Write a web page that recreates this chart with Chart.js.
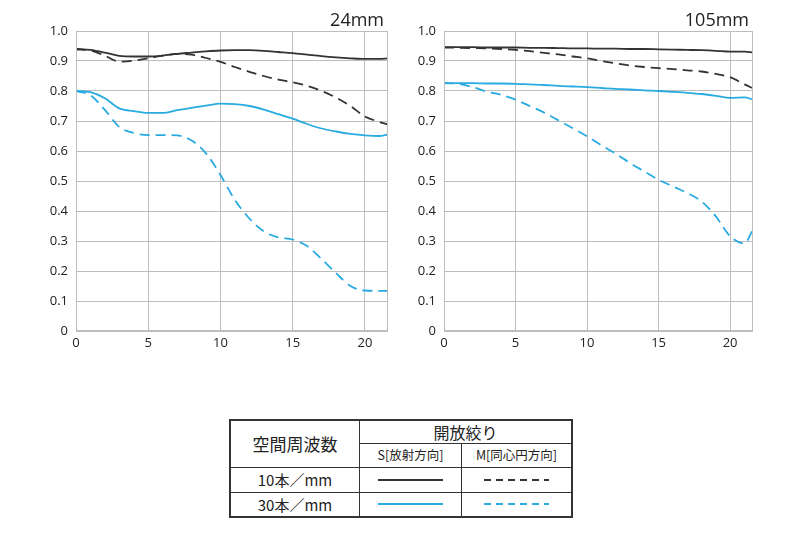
<!DOCTYPE html>
<html>
<head>
<meta charset="utf-8">
<script src="https://cdn.jsdelivr.net/npm/chart.js@4/dist/chart.umd.min.js"></script>
<style>
  body { margin: 0; background: #fff; font-family: "Noto Sans CJK JP", "Open Sans", sans-serif; }
  #wrap { position: relative; width: 800px; height: 534px; }
  .box { position: absolute; top: 0; height: 360px; }
  table { position: absolute; left: 229px; top: 419px; border-collapse: collapse; color: #222; border: 2px solid #333; }
  td { border: 1.5px solid #333; text-align: center; padding: 0; line-height: 1; }
  svg { display: block; margin: 0 auto; }
</style>
</head>
<body>
<div id="wrap">
  <div class="box" style="left:0;width:400px"><canvas id="c24"></canvas></div>
  <div class="box" style="left:400px;width:400px"><canvas id="c105"></canvas></div>
  <table>
    <tr style="height:23px">
      <td rowspan="2" style="width:128px;font-size:17px">空間周波数</td>
      <td colspan="2" style="font-size:16px">開放絞り</td>
    </tr>
    <tr style="height:24px">
      <td style="width:101px;font-size:12.5px">S[放射方向]</td>
      <td style="width:109px;font-size:12.5px">M[同心円方向]</td>
    </tr>
    <tr style="height:25px">
      <td style="font-size:15px">10本／mm</td>
      <td><svg width="65" height="4"><line x1="0" y1="2" x2="65" y2="2" stroke="#333" stroke-width="1.8"/></svg></td>
      <td><svg width="65" height="4"><line x1="0" y1="2" x2="65" y2="2" stroke="#333" stroke-width="1.8" stroke-dasharray="7 5"/></svg></td>
    </tr>
    <tr style="height:25px">
      <td style="font-size:15px">30本／mm</td>
      <td><svg width="65" height="4"><line x1="0" y1="2" x2="65" y2="2" stroke="#29abe2" stroke-width="1.8"/></svg></td>
      <td><svg width="65" height="4"><line x1="0" y1="2" x2="65" y2="2" stroke="#29abe2" stroke-width="1.8" stroke-dasharray="7 5"/></svg></td>
    </tr>
  </table>
</div>
<script>
// --- DONNEES ---
const xs = [0, 1, 2, 3, 4, 5, 6, 7, 8, 9, 10, 11, 12, 13, 14, 15, 16, 17, 18, 19, 20, 21, 21.6];

const s10_24 = [.941, .937, .928, .917, .915, .915, .918, .924, .928, .932, .935, .936, .936, .934, .930, .926, .921, .916, .912, .909, .907, .907, .909];
const m10_24 = [.939, .935, .918, .898, .901, .909, .918, .924, .921, .910, .897, .880, .864, .850, .838, .829, .817, .800, .778, .750, .715, .697, .688];
const s30_24 = [.801, .796, .776, .742, .733, .727, .727, .736, .744, .751, .758, .756, .750, .738, .723, .708, .690, .675, .665, .657, .652, .650, .655];
const m30_24 = [.800, .786, .737, .680, .660, .653, .653, .652, .635, .592, .520, .437, .375, .332, .312, .305, .283, .240, .193, .150, .135, .134, .134];

const s10_105 = [.946, .946, .946, .945, .945, .945, .944, .944, .943, .942, .942, .941, .941, .940, .940, .939, .938, .937, .936, .934, .931, .931, .929];
const m10_105 = [.945, .944, .943, .942, .940, .937, .933, .927, .922, .915, .909, .900, .892, .885, .880, .876, .873, .869, .865, .857, .846, .822, .809];
const s30_105 = [.826, .826, .826, .825, .825, .824, .822, .820, .817, .815, .813, .810, .807, .805, .802, .800, .797, .794, .790, .784, .777, .779, .771];
const m30_105 = [.826, .824, .813, .798, .787, .771, .750, .728, .702, .676, .649, .619, .591, .560, .532, .504, .482, .460, .432, .382, .316, .292, .338];

const xTicks = [0, 5, 10, 15, 20];
const BLACK = '#333333', BLUE = '#29abe2', GRID = '#bdbdbd';

function pts(arr) { return xs.map((x, i) => ({ x: x, y: arr[i] })); }

function serie(arr, color, dashed) {
    return { data: pts(arr), borderColor: color, borderWidth: 1.8, borderDash: dashed ? [10, 6] : [],
             pointRadius: 0, fill: false, cubicInterpolationMode: 'monotone' };
}

// --- GRAPHIQUE ---
function makeChart(id, titre, yWidth, padRight, s10, m10, s30, m30) {
    const frame = {
        id: 'frame',
        afterDraw(chart) {
            const a = chart.chartArea, ctx = chart.ctx;
            ctx.save();
            ctx.strokeStyle = GRID; ctx.lineWidth = 1;
            ctx.strokeRect(a.left + 0.5, a.top + 0.5, a.right - a.left - 1, a.bottom - a.top - 1);
            ctx.fillStyle = '#222'; ctx.font = '18px "Open Sans", sans-serif';
            ctx.textAlign = 'right'; ctx.textBaseline = 'alphabetic';
            ctx.fillText(titre, a.right - 4, 26);
            ctx.restore();
        }
    };
    return new Chart(document.getElementById(id), {
        type: 'line',
        data: { datasets: [serie(s10, BLACK, false), serie(m10, BLACK, true), serie(s30, BLUE, false), serie(m30, BLUE, true)] },
        options: {
            responsive: false, animation: false,
            layout: { padding: { top: 31, right: padRight, left: 0, bottom: 0 } },
            plugins: { legend: { display: false }, tooltip: { enabled: false } },
            scales: {
                x: {
                    type: 'linear', min: 0, max: 21.6,
                    afterBuildTicks: s => { s.ticks = xTicks.map(v => ({ value: v })); },
                    afterFit: s => { s.height = 29; },
                    grid: { color: GRID, drawTicks: false },
                    border: { display: false },
                    ticks: { padding: 4, color: '#222', font: { family: 'Open Sans', size: 13 } }
                },
                y: {
                    min: 0, max: 1,
                    afterFit: s => { s.width = yWidth; },
                    grid: { color: GRID, drawTicks: false },
                    border: { display: false },
                    ticks: { stepSize: 0.1, padding: 8, color: '#222', font: { family: 'Open Sans', size: 13 },
                             callback: v => v === 0 ? '0' : v.toFixed(1) }
                }
            }
        },
        plugins: [frame]
    });
}

document.getElementById('c24').width = 400; document.getElementById('c24').height = 360;
document.getElementById('c105').width = 400; document.getElementById('c105').height = 360;
makeChart('c24', '24mm', 76, 12, s10_24, m10_24, s30_24, m30_24);
makeChart('c105', '105mm', 44, 47, s10_105, m10_105, s30_105, m30_105);
</script>
</body>
</html>
